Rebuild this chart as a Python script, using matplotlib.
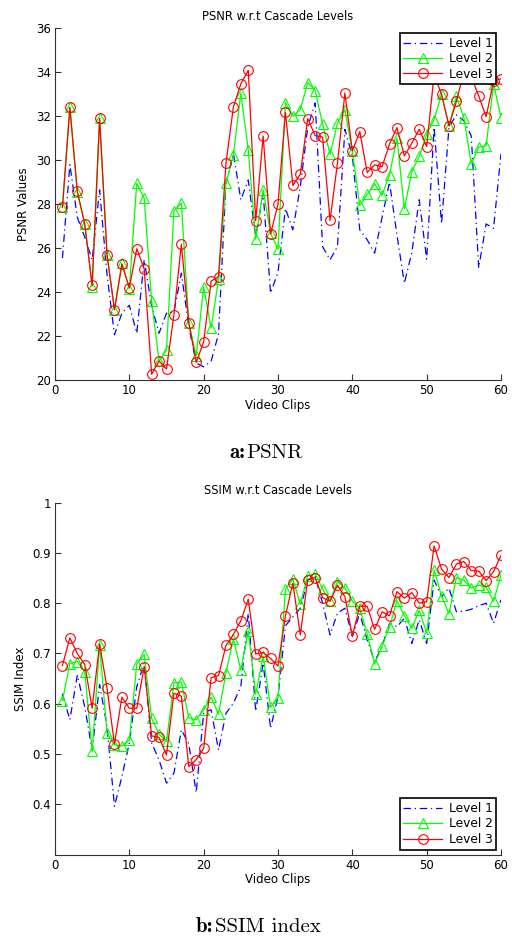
import numpy as np
import matplotlib
matplotlib.use("Agg")
import matplotlib.pyplot as plt
from matplotlib.offsetbox import TextArea, HPacker, AnchoredOffsetbox

clips = list(range(1, 61))

psnr_l1 = [25.55, 29.8, 27.4, 26.5, 25.47, 28.65, 24.8, 22.06, 23.04, 23.4,
           22.13, 25.47, 23.35, 22.13, 23.04, 23.1, 24.86, 22.44, 20.77, 20.6,
           20.85, 22.1, 28.95, 30.3, 28.2, 29.1, 26.5, 28.5, 23.95, 24.9,
           27.8, 26.83, 28.8, 31.5, 32.6, 26.07, 25.47, 26.07, 31.4, 30.2,
           26.83, 26.38, 25.77, 27.4, 29.0, 26.6, 24.4, 25.8, 28.2, 25.5,
           31.5, 27.1, 31.5, 32.06, 31.8, 31.1, 25.1, 27.1, 26.9, 30.3]
psnr_l2 = [27.85, 32.4, 28.55, 27.1, 24.25, 31.9, 25.7, 23.2, 25.3, 24.15,
           28.95, 28.27, 23.6, 20.85, 21.38, 27.7, 28.05, 22.6, 21.1, 24.23,
           22.36, 24.6, 28.95, 30.24, 33.05, 30.47, 26.4, 28.65, 26.68, 25.95,
           32.62, 32.0, 32.3, 33.53, 33.17, 31.64, 30.27, 31.68, 32.29, 30.4,
           27.94, 28.44, 28.92, 28.4, 29.33, 31.0, 27.79, 29.48, 30.17, 31.18,
           31.85, 33.0, 31.56, 32.9, 31.94, 29.82, 30.6, 30.65, 33.47, 31.94]
psnr_l3 = [27.85, 32.4, 28.58, 27.1, 24.3, 31.9, 25.7, 23.2, 25.27, 24.2,
           25.97, 25.06, 20.26, 20.86, 20.5, 22.97, 26.17, 22.6, 20.8, 21.74,
           24.5, 24.7, 29.86, 32.42, 33.47, 34.09, 27.24, 31.1, 26.64, 28.0,
           32.18, 28.85, 29.36, 31.89, 31.12, 31.05, 27.26, 29.86, 33.05, 30.42,
           31.3, 29.44, 29.79, 29.7, 30.73, 31.48, 30.2, 30.77, 31.41, 30.62,
           33.9, 33.0, 31.56, 32.68, 34.0, 33.8, 32.92, 31.98, 33.6, 33.7]

ssim_l1 = [0.62, 0.568, 0.657, 0.594, 0.508, 0.638, 0.555, 0.396, 0.455, 0.522,
           0.634, 0.681, 0.522, 0.488, 0.442, 0.462, 0.548, 0.52, 0.423, 0.582,
           0.588, 0.508, 0.581, 0.601, 0.634, 0.78, 0.585, 0.681, 0.551, 0.614,
           0.755, 0.773, 0.79, 0.846, 0.853, 0.8, 0.737, 0.78, 0.79, 0.734,
           0.78, 0.727, 0.684, 0.714, 0.76, 0.753, 0.77, 0.72, 0.767, 0.72,
           0.846, 0.813, 0.83, 0.783, 0.784, 0.788, 0.795, 0.8, 0.76, 0.807]
ssim_l2 = [0.606, 0.68, 0.684, 0.664, 0.505, 0.717, 0.542, 0.518, 0.516, 0.527,
           0.679, 0.698, 0.571, 0.539, 0.525, 0.642, 0.643, 0.572, 0.568, 0.588,
           0.613, 0.579, 0.662, 0.729, 0.667, 0.745, 0.619, 0.695, 0.593, 0.612,
           0.828, 0.848, 0.798, 0.855, 0.859, 0.828, 0.804, 0.843, 0.83, 0.804,
           0.79, 0.738, 0.679, 0.714, 0.753, 0.805, 0.775, 0.75, 0.786, 0.74,
           0.866, 0.814, 0.779, 0.851, 0.846, 0.83, 0.836, 0.832, 0.804, 0.856]
ssim_l3 = [0.676, 0.731, 0.7, 0.678, 0.591, 0.719, 0.631, 0.52, 0.613, 0.591,
           0.591, 0.674, 0.536, 0.533, 0.498, 0.621, 0.615, 0.475, 0.489, 0.511,
           0.652, 0.656, 0.716, 0.738, 0.765, 0.808, 0.699, 0.702, 0.69, 0.675,
           0.775, 0.84, 0.737, 0.847, 0.851, 0.811, 0.804, 0.836, 0.813, 0.735,
           0.794, 0.794, 0.748, 0.783, 0.775, 0.823, 0.81, 0.821, 0.8, 0.803,
           0.914, 0.868, 0.851, 0.878, 0.883, 0.865, 0.864, 0.845, 0.863, 0.895]

labels = ["Level 1", "Level 2", "Level 3"]
plt.rcParams['font.family'] = ['DejaVu Sans']

fig = plt.figure(figsize=(5.12, 9.44), dpi=100)
ax1 = fig.add_axes([55/512, 1-380/944, 446/512, 351.7/944])
ax2 = fig.add_axes([55/512, 1-854.5/944, 446/512, 351.8/944])

def style(ax):
    ax.spines['top'].set_visible(False)
    ax.spines['right'].set_visible(False)
    for s in ('left', 'bottom'):
        ax.spines[s].set_color('#333333')
        ax.spines[s].set_linewidth(0.8)
    ax.tick_params(direction='in', length=4, width=0.8, labelsize=8.5, color='#333333', pad=3)

def draw(ax, l1, l2, l3, loc):
    ax.plot(clips, l1, color='blue', linestyle=(0, (6, 3, 1, 3)), linewidth=0.9, label=labels[0])
    ax.plot(clips, l2, color=(0, 1, 0), linestyle='-', linewidth=0.9, marker='^',
            markersize=7, markerfacecolor='none', markeredgecolor=(0, 1, 0),
            markeredgewidth=0.8, label=labels[1])
    ax.plot(clips, l3, color='red', linestyle='-', linewidth=0.9, marker='o',
            markersize=7, markerfacecolor='none', markeredgecolor='red',
            markeredgewidth=0.8, label=labels[2])
    leg = ax.legend(loc=loc, fontsize=8.8, fancybox=False, framealpha=1,
                    edgecolor='black', handlelength=3.2, borderpad=0.3,
                    labelspacing=0.2, handletextpad=0.5, borderaxespad=0.4)
    leg.get_frame().set_linewidth(1.2)

draw(ax1, psnr_l1, psnr_l2, psnr_l3, 'upper right')
ax1.set_xlim(0, 60)
ax1.set_ylim(20, 36)
ax1.set_xticks(range(0, 61, 10))
ax1.set_yticks(range(20, 37, 2))
ax1.set_title("PSNR w.r.t Cascade Levels", fontsize=8.3, pad=6)
ax1.set_xlabel("Video Clips", fontsize=8.5, labelpad=1)
ax1.set_ylabel("PSNR Values", fontsize=8.5, labelpad=4)
style(ax1)

draw(ax2, ssim_l1, ssim_l2, ssim_l3, 'lower right')
ax2.set_xlim(0, 60)
ax2.set_ylim(0.3, 1.0)
ax2.set_xticks(range(0, 61, 10))
ax2.set_yticks([0.4, 0.5, 0.6, 0.7, 0.8, 0.9, 1.0])
ax2.set_yticklabels(["0.4", "0.5", "0.6", "0.7", "0.8", "0.9", "1"])
ax2.set_title("SSIM w.r.t Cascade Levels", fontsize=8.3, pad=6)
ax2.set_xlabel("Video Clips", fontsize=8.5, labelpad=1)
ax2.set_ylabel("SSIM Index", fontsize=8.5, labelpad=4)
style(ax2)

def caption(bold, rest, xcenter, ycenter):
    t1 = TextArea(bold, textprops=dict(family='cmb10', fontsize=15))
    t2 = TextArea(rest, textprops=dict(family='cmr10', fontsize=15))
    box = HPacker(children=[t1, t2], align='baseline', pad=0, sep=1)
    anch = AnchoredOffsetbox(loc='center', child=box, pad=0, frameon=False,
                             bbox_to_anchor=(xcenter, ycenter),
                             bbox_transform=fig.transFigure, borderpad=0)
    fig.add_artist(anch)

caption("a:", "PSNR", 0.52, 1-452/944)
caption("b:", "SSIM index", 0.505, 1-927/944)

fig.savefig("out.png", dpi=100)
